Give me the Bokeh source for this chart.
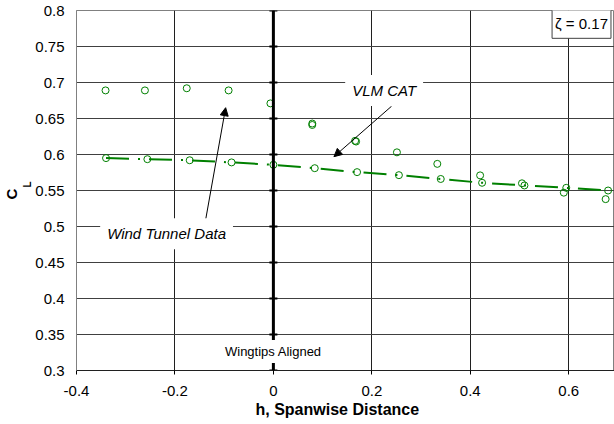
from bokeh.plotting import figure
from bokeh.models import Label, Arrow, NormalHead, Span, FixedTicker, Title
from bokeh.embed import file_html
from bokeh.resources import INLINE

# ---- data ----
wt_x = [-0.341, -0.261, -0.176, -0.091, -0.006, 0.079, 0.079, 0.166, 0.168, 0.251, 0.333, 0.420, 0.505, 0.590, 0.675]
wt_y = [0.689, 0.689, 0.692, 0.689, 0.671, 0.643, 0.641, 0.619, 0.618, 0.603, 0.587, 0.571, 0.560, 0.547, 0.538]

vlm_x = [-0.340, -0.256, -0.170, -0.085, 0.0, 0.084, 0.170, 0.255, 0.340, 0.424, 0.510, 0.595, 0.680]
vlm_y = [0.595, 0.5935, 0.592, 0.589, 0.5857, 0.581, 0.5755, 0.5713, 0.566, 0.5607, 0.557, 0.5537, 0.550]

x_ticks = [-0.4, -0.2, 0.0, 0.2, 0.4, 0.6]
x_tick_labels = ["-0.4", "-0.2", "0", "0.2", "0.4", "0.6"]
y_ticks = [0.3, 0.35, 0.4, 0.45, 0.5, 0.55, 0.6, 0.65, 0.7, 0.75, 0.8]
y_tick_labels = ["0.3", "0.35", "0.4", "0.45", "0.5", "0.55", "0.6", "0.65", "0.7", "0.75", "0.8"]

FONT = "Liberation Sans"
GREEN = "#008000"

p = figure(width=614, height=424, x_range=(-0.4, 0.693), y_range=(0.3, 0.8),
           output_backend="svg", toolbar_location=None,
           min_border_left=73, min_border_right=0, min_border_top=10, min_border_bottom=54)
p.background_fill_color = "white"
p.border_fill_color = "white"
p.outline_line_color = "#808080"
p.outline_line_width = 1

# axes
p.xaxis.ticker = FixedTicker(ticks=x_ticks)
p.yaxis.ticker = FixedTicker(ticks=y_ticks)
p.xaxis.major_label_overrides = dict(zip(x_ticks, x_tick_labels))
p.yaxis.major_label_overrides = dict(zip(y_ticks, y_tick_labels))
for ax in (p.xaxis, p.yaxis):
    ax.major_label_text_font = FONT
    ax.major_label_text_font_size = "15px"
    ax.major_label_text_color = "black"
    ax.minor_tick_line_color = None
    ax.major_tick_in = 0
p.xaxis.major_tick_out = 4
p.xaxis.major_tick_line_color = "black"
p.xaxis.axis_line_color = "#202020"
p.xaxis.major_label_standoff = 11
p.yaxis.major_tick_out = 0
p.yaxis.axis_line_color = "#808080"
p.yaxis.major_label_standoff = 12

# axis titles
p.add_layout(Title(text="L", text_font=FONT, text_font_size="10px", text_font_style="bold",
                   text_color="black", align="left", offset=183, standoff=0), "left")
p.add_layout(Title(text="C", text_font=FONT, text_font_size="15px", text_font_style="bold",
                   text_color="black", align="left", offset=171, standoff=0), "left")
p.add_layout(Title(text="h, Spanwise Distance", text_font=FONT, text_font_size="16px",
                   text_font_style="bold", text_color="black", align="left",
                   offset=179, standoff=0), "below")

# grids
p.xgrid.ticker = FixedTicker(ticks=x_ticks)
p.ygrid.ticker = FixedTicker(ticks=y_ticks)
p.xgrid.grid_line_color = "#202020"
p.ygrid.grid_line_color = "#404040"
p.xgrid.grid_line_width = 1
p.ygrid.grid_line_width = 1

# thick line at x = 0 with tick marks
p.add_layout(Span(location=0, dimension="height", line_color="black", line_width=3))
p.scatter([0] * len(y_ticks), y_ticks, marker="dash", size=8, line_color="black", line_width=2)

# VLM line and markers
p.line(vlm_x, vlm_y, line_color=GREEN, line_width=2, line_dash="23 9 2 9")
p.scatter(vlm_x, vlm_y, marker="circle", size=7, fill_color=None, line_color=GREEN, line_width=1)
# wind tunnel markers
p.scatter(wt_x, wt_y, marker="circle", size=7, fill_color=None, line_color=GREEN, line_width=1)

# arrows
p.add_layout(Arrow(end=NormalHead(size=8, fill_color="black", line_color="black"),
                   x_start=-0.138, y_start=0.508, x_end=-0.097, y_end=0.665,
                   line_color="black", line_width=1))
p.add_layout(Arrow(end=NormalHead(size=8, fill_color="black", line_color="black"),
                   x_start=0.240, y_start=0.667, x_end=0.123, y_end=0.597,
                   line_color="black", line_width=1))

# annotation labels
p.add_layout(Label(x=-0.217, y=0.49, text="Wind Tunnel Data", text_font=FONT,
                   text_font_size="15px", text_font_style="italic", text_align="center",
                   text_color="black", text_baseline="middle",
                   background_fill_color="white", padding=7))
p.add_layout(Label(x=0.225, y=0.689, text="VLM CAT", text_font=FONT,
                   text_font_size="15px", text_font_style="italic", text_align="center",
                   text_color="black", text_baseline="middle",
                   background_fill_color="white", padding=7))
p.add_layout(Label(x=0.0, y=0.3264, text="Wingtips Aligned", text_font=FONT,
                   text_font_size="13px", text_align="center", text_color="black",
                   text_baseline="middle", background_fill_color="white", padding=4))
p.add_layout(Label(x=0.626, y=0.7815, text="ζ = 0.17", text_font=FONT,
                   text_font_size="15px", text_align="center", text_baseline="middle",
                   text_color="black", background_fill_color="white",
                   border_line_color="#404040", border_line_width=1, padding=(3, 6)))

open("out.html", "w").write(file_html(p, INLINE))
